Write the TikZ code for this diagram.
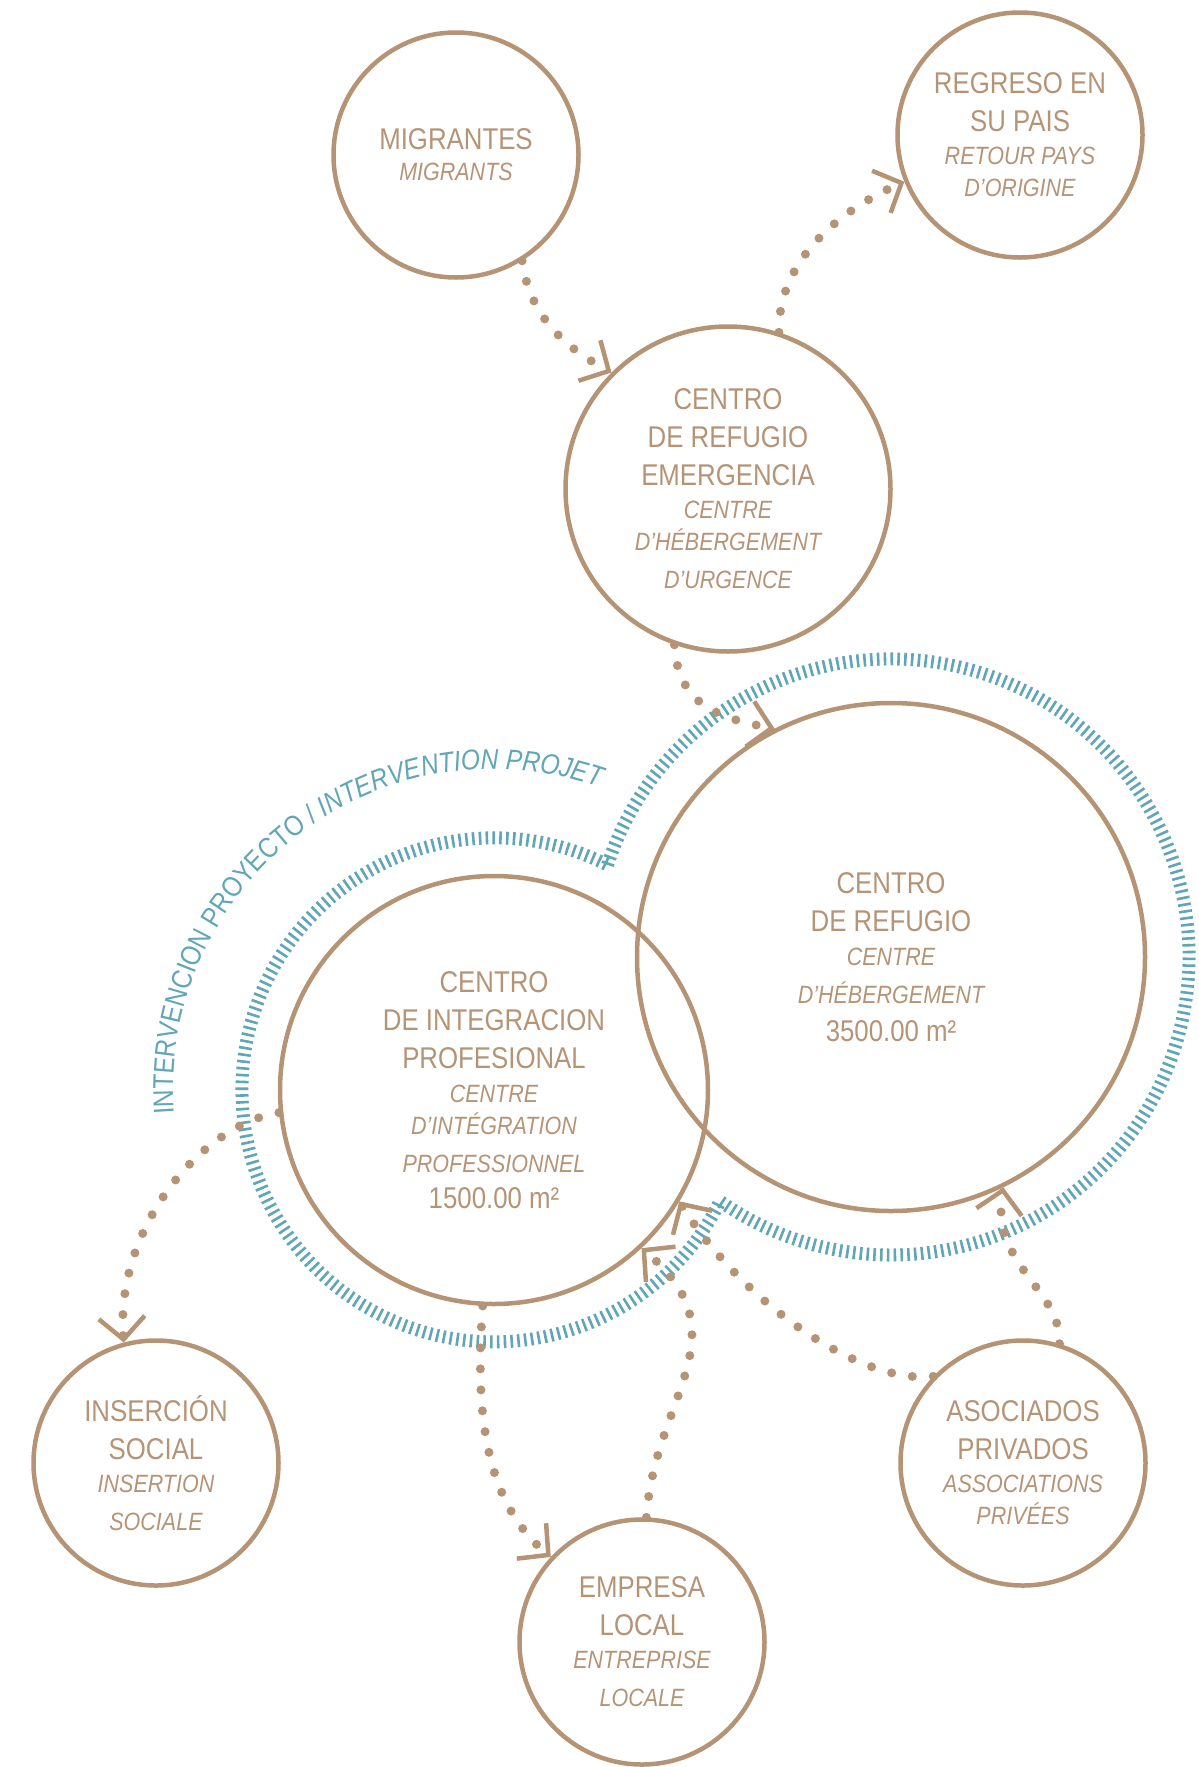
\documentclass[tikz,border=0pt]{standalone}
\usepackage{fontspec}
\setmainfont{Liberation Sans}[FakeStretch=0.86]
\usetikzlibrary{calc, arrows.meta, decorations.text}
\definecolor{clay}{RGB}{181,148,118}
\definecolor{lagoon}{RGB}{96,166,182}
\newcommand{\langes}{\fontsize{30}{38}\selectfont\upshape}
\newcommand{\langfr}{\fontsize{25}{32}\selectfont\itshape}

\begin{document}
\begin{tikzpicture}[x=1pt, y=-1pt,
        site/.style = {circle, draw=clay, line width=4.5pt, text=clay, align=center, inner sep=0pt, minimum size=#1, font=\langes},
        flow/.style = {draw=clay, line width=9pt, line cap=round, dash pattern=on 0pt off 21pt, -{Straight Barb[length=22pt, width=46pt, line width=4.5pt]}},
        zone/.style = {draw=lagoon, line width=13pt, dash pattern=on 2.6pt off 4.2pt}]
    \useasboundingbox (0, 0) rectangle (1199, 1767);

    \node[site=245pt] (migr) at (456, 155) {MIGRANTES\\[-7pt] \langfr MIGRANTS};
    \node[site=245pt] (regr) at (1020, 135) {REGRESO EN\\ SU PAIS\\[-5pt] \langfr RETOUR PAYS\\[-6pt] \langfr D’ORIGINE};
    \node[site=325pt] (urg) at (728, 489) {CENTRO\\ DE REFUGIO\\ EMERGENCIA\\[-5pt] \langfr CENTRE\\[-6pt]
        \langfr D’HÉBERGEMENT\\ \langfr D’URGENCE};
    \node[site=508pt] (refu) at (891, 957) {CENTRO\\ DE REFUGIO\\[-4pt] \langfr CENTRE\\ \langfr D’HÉBERGEMENT\\ 3500.00 m²};
    \node[site=428pt] (integ) at (494, 1090) {CENTRO\\ DE INTEGRACION\\ PROFESIONAL\\[-4pt] \langfr CENTRE\\[-6pt]
        \langfr D’INTÉGRATION\\ \langfr PROFESSIONNEL\\[-2pt] 1500.00 m²};
    \node[site=245pt] (inser) at (156, 1463) {INSERCIÓN\\ SOCIAL\\[-5pt] \langfr INSERTION\\ \langfr SOCIALE};
    \node[site=245pt] (empr) at (642, 1642) {EMPRESA\\ LOCAL\\[-5pt] \langfr ENTREPRISE\\ \langfr LOCALE};
    \node[site=245pt] (asoc) at (1023, 1463) {ASOCIADOS\\ PRIVADOS\\[-5pt] \langfr ASSOCIATIONS\\[-6pt] \langfr PRIVÉES};

    % project outline round both centres
    \draw[zone] ($(refu) + (198:298)$) arc[start angle=198, end angle=485, radius=298]
        arc[start angle=26.2, end angle=296.8, radius=252] -- cycle;
    \path[decorate, decoration={text along path, text align=center, text color=lagoon,
            text={|\fontsize{28.5}{30}\selectfont|INTERVENCION PROYECTO / |\fontsize{28.5}{30}\selectfont\itshape|INTERVENTION PROJET}}]
        ($(integ) + (175:321)$) arc[start angle=175, end angle=290, radius=321];

    \draw[flow] (migr.-58) .. controls (530, 320) and (570, 350) .. (urg.135);
    \draw[flow] (urg.72) .. controls (778, 260) and (840, 210) .. (regr.202);
    \draw[flow] (urg.251) .. controls (678, 705) and (718, 718) .. (refu.117.5);
    \draw[flow] (integ.186) .. controls (200, 1125) and (115, 1230) .. (inser.105);
    \draw[flow] (integ.267) .. controls (474, 1420) and (488, 1505) .. (empr.137);
    \draw[flow] (empr.88) .. controls (655, 1395) and (745, 1335) .. (integ.-47.6);
    \draw[flow] (asoc.136) .. controls (860, 1385) and (740, 1300) .. (integ.-31.3);
    \draw[flow] (asoc.73.6) .. controls (1062, 1290) and (990, 1265) .. (refu.-64);
\end{tikzpicture}
\end{document}
